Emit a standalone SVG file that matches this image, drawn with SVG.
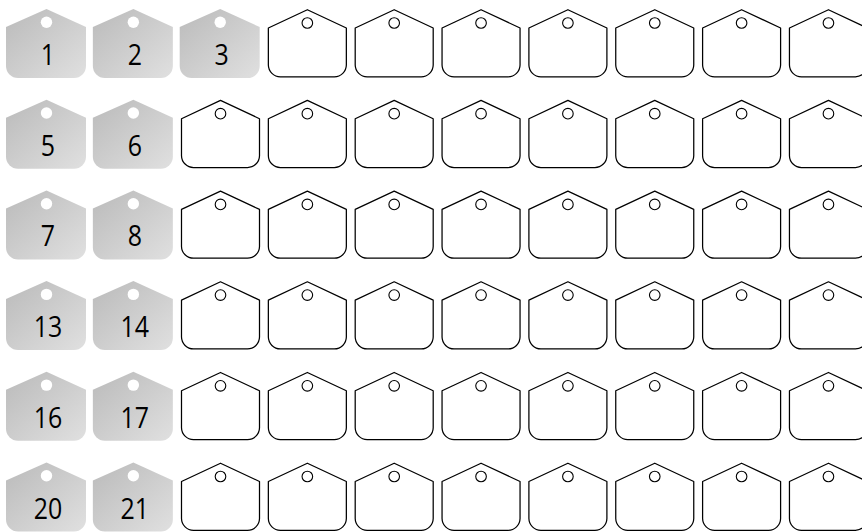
<svg xmlns="http://www.w3.org/2000/svg" xmlns:xlink="http://www.w3.org/1999/xlink" width="862" height="532" viewBox="0 0 862 532">
<defs>
<linearGradient id="metal" x1="0" y1="0" x2="1" y2="1">
<stop offset="0" stop-color="#bababa"/>
<stop offset="1" stop-color="#e0e0e0"/>
</linearGradient>
<g id="gtag">
<path d="M0,18 L40.5,0 L80,18 L80,57 A12,12 0 0 1 68,69 L12,69 A12,12 0 0 1 0,57 Z" fill="url(#metal)"/>
<circle cx="40.5" cy="13.3" r="5.7" fill="#ffffff"/>
</g>
<g id="otag">
<path d="M1.8,19 L40.8,0.7 L79.8,19 L79.8,56 A12,12 0 0 1 67.8,67.8 L13.8,67.8 A12,12 0 0 1 1.8,56 Z" fill="#ffffff" stroke="#000000" stroke-width="1.25" stroke-linejoin="round"/>
<circle cx="40.8" cy="14" r="5.3" fill="#ffffff" stroke="#000000" stroke-width="1.1"/>
</g>
</defs>
<style>
.num{font-family:"Open Sans","DejaVu Sans",sans-serif;font-size:29px;fill:#000000;text-anchor:middle}
</style>
<rect width="862" height="532" fill="#ffffff"/>
<g id="connectors"></g>
<!-- row 1 -->
<g id="tag-1" transform="translate(6,9)"><use href="#gtag"/><text class="num" transform="translate(42,56) scale(0.86,1)">1</text></g>
<g id="tag-2" transform="translate(92.85,9)"><use href="#gtag"/><text class="num" transform="translate(42,56) scale(0.86,1)">2</text></g>
<g id="tag-3" transform="translate(179.7,9)"><use href="#gtag"/><text class="num" transform="translate(42,56) scale(0.86,1)">3</text></g>
<g id="r1c4" transform="translate(266.55,9)"><use href="#otag"/></g>
<g id="r1c5" transform="translate(353.4,9)"><use href="#otag"/></g>
<g id="r1c6" transform="translate(440.25,9)"><use href="#otag"/></g>
<g id="r1c7" transform="translate(527.1,9)"><use href="#otag"/></g>
<g id="r1c8" transform="translate(613.95,9)"><use href="#otag"/></g>
<g id="r1c9" transform="translate(700.8,9)"><use href="#otag"/></g>
<g id="r1c10" transform="translate(787.65,9)"><use href="#otag"/></g>
<!-- row 2 -->
<g id="tag-5" transform="translate(6,99.7)"><use href="#gtag"/><text class="num" transform="translate(42,56) scale(0.86,1)">5</text></g>
<g id="tag-6" transform="translate(92.85,99.7)"><use href="#gtag"/><text class="num" transform="translate(42,56) scale(0.86,1)">6</text></g>
<g id="r2c3" transform="translate(179.7,99.7)"><use href="#otag"/></g>
<g id="r2c4" transform="translate(266.55,99.7)"><use href="#otag"/></g>
<g id="r2c5" transform="translate(353.4,99.7)"><use href="#otag"/></g>
<g id="r2c6" transform="translate(440.25,99.7)"><use href="#otag"/></g>
<g id="r2c7" transform="translate(527.1,99.7)"><use href="#otag"/></g>
<g id="r2c8" transform="translate(613.95,99.7)"><use href="#otag"/></g>
<g id="r2c9" transform="translate(700.8,99.7)"><use href="#otag"/></g>
<g id="r2c10" transform="translate(787.65,99.7)"><use href="#otag"/></g>
<!-- row 3 -->
<g id="tag-7" transform="translate(6,190.4)"><use href="#gtag"/><text class="num" transform="translate(42,56) scale(0.86,1)">7</text></g>
<g id="tag-8" transform="translate(92.85,190.4)"><use href="#gtag"/><text class="num" transform="translate(42,56) scale(0.86,1)">8</text></g>
<g id="r3c3" transform="translate(179.7,190.4)"><use href="#otag"/></g>
<g id="r3c4" transform="translate(266.55,190.4)"><use href="#otag"/></g>
<g id="r3c5" transform="translate(353.4,190.4)"><use href="#otag"/></g>
<g id="r3c6" transform="translate(440.25,190.4)"><use href="#otag"/></g>
<g id="r3c7" transform="translate(527.1,190.4)"><use href="#otag"/></g>
<g id="r3c8" transform="translate(613.95,190.4)"><use href="#otag"/></g>
<g id="r3c9" transform="translate(700.8,190.4)"><use href="#otag"/></g>
<g id="r3c10" transform="translate(787.65,190.4)"><use href="#otag"/></g>
<!-- row 4 -->
<g id="tag-13" transform="translate(6,281.1)"><use href="#gtag"/><text class="num" transform="translate(42,56) scale(0.86,1)">13</text></g>
<g id="tag-14" transform="translate(92.85,281.1)"><use href="#gtag"/><text class="num" transform="translate(42,56) scale(0.86,1)">14</text></g>
<g id="r4c3" transform="translate(179.7,281.1)"><use href="#otag"/></g>
<g id="r4c4" transform="translate(266.55,281.1)"><use href="#otag"/></g>
<g id="r4c5" transform="translate(353.4,281.1)"><use href="#otag"/></g>
<g id="r4c6" transform="translate(440.25,281.1)"><use href="#otag"/></g>
<g id="r4c7" transform="translate(527.1,281.1)"><use href="#otag"/></g>
<g id="r4c8" transform="translate(613.95,281.1)"><use href="#otag"/></g>
<g id="r4c9" transform="translate(700.8,281.1)"><use href="#otag"/></g>
<g id="r4c10" transform="translate(787.65,281.1)"><use href="#otag"/></g>
<!-- row 5 -->
<g id="tag-16" transform="translate(6,371.8)"><use href="#gtag"/><text class="num" transform="translate(42,56) scale(0.86,1)">16</text></g>
<g id="tag-17" transform="translate(92.85,371.8)"><use href="#gtag"/><text class="num" transform="translate(42,56) scale(0.86,1)">17</text></g>
<g id="r5c3" transform="translate(179.7,371.8)"><use href="#otag"/></g>
<g id="r5c4" transform="translate(266.55,371.8)"><use href="#otag"/></g>
<g id="r5c5" transform="translate(353.4,371.8)"><use href="#otag"/></g>
<g id="r5c6" transform="translate(440.25,371.8)"><use href="#otag"/></g>
<g id="r5c7" transform="translate(527.1,371.8)"><use href="#otag"/></g>
<g id="r5c8" transform="translate(613.95,371.8)"><use href="#otag"/></g>
<g id="r5c9" transform="translate(700.8,371.8)"><use href="#otag"/></g>
<g id="r5c10" transform="translate(787.65,371.8)"><use href="#otag"/></g>
<!-- row 6 -->
<g id="tag-20" transform="translate(6,462.5)"><use href="#gtag"/><text class="num" transform="translate(42,56) scale(0.86,1)">20</text></g>
<g id="tag-21" transform="translate(92.85,462.5)"><use href="#gtag"/><text class="num" transform="translate(42,56) scale(0.86,1)">21</text></g>
<g id="r6c3" transform="translate(179.7,462.5)"><use href="#otag"/></g>
<g id="r6c4" transform="translate(266.55,462.5)"><use href="#otag"/></g>
<g id="r6c5" transform="translate(353.4,462.5)"><use href="#otag"/></g>
<g id="r6c6" transform="translate(440.25,462.5)"><use href="#otag"/></g>
<g id="r6c7" transform="translate(527.1,462.5)"><use href="#otag"/></g>
<g id="r6c8" transform="translate(613.95,462.5)"><use href="#otag"/></g>
<g id="r6c9" transform="translate(700.8,462.5)"><use href="#otag"/></g>
<g id="r6c10" transform="translate(787.65,462.5)"><use href="#otag"/></g>
</svg>
